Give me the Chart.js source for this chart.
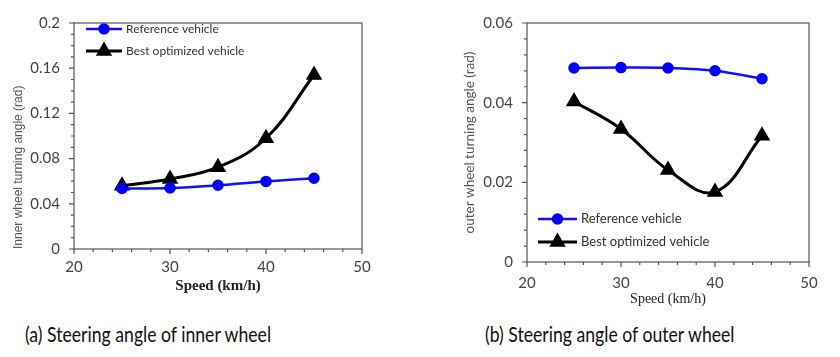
<!DOCTYPE html>
<html>
<head>
<meta charset="utf-8">
<script src="https://cdn.jsdelivr.net/npm/chart.js@4.4.1/dist/chart.umd.min.js"></script>
<style>
  body { margin: 0; background: #fff; width: 840px; height: 357px; position: relative; overflow: hidden; }
  .box { position: absolute; }
  .caption { position: absolute; top: 322px; font-family: Lato, sans-serif; font-size: 20.5px; color: #111; white-space: nowrap; transform: scaleX(0.86); transform-origin: left center; }
</style>
</head>
<body>
<div class="box" style="left:0;top:0;width:400px;height:300px"><canvas id="inner"></canvas></div>
<div class="box" style="left:420px;top:0;width:420px;height:310px"><canvas id="outer"></canvas></div>
<div class="caption" style="left:25px">(a) Steering angle of inner wheel</div>
<div class="caption" style="left:485px">(b) Steering angle of outer wheel</div>
<script>
// данные
const speeds = [25, 30, 35, 40, 45];
const innerRef = [0.0535, 0.054, 0.0564, 0.0598, 0.0626];
const innerBest = [0.056, 0.062, 0.0724, 0.098, 0.154];
const outerRef = [0.0487, 0.0488, 0.0487, 0.048, 0.046];
const outerBest = [0.0403, 0.0334, 0.0231, 0.0176, 0.0317];
const seriesNames = ["Reference vehicle", "Best optimized vehicle"];

const tickFont = { family: "Lato, sans-serif", size: 15 };
const toPts = (ys) => speeds.map((x, i) => ({ x: x, y: ys[i] }));

// рамка и засечки осей
const axesPlugin = {
    id: "axesBox",
    beforeDatasetsDraw(chart, args, opts) {
        const { ctx, chartArea: a, scales } = chart;
        ctx.save();
        ctx.strokeStyle = "#555";
        ctx.lineWidth = 1.2;
        ctx.strokeRect(a.left, a.top, a.right - a.left, a.bottom - a.top);
        const x = scales.x, y = scales.y;
        ctx.beginPath();
        for (let v = x.min; v <= x.max + 1e-9; v += opts.xMinor) {
            const px = x.getPixelForValue(v);
            const major = Math.abs(v / 10 - Math.round(v / 10)) < 1e-6;
            ctx.moveTo(px, a.bottom);
            ctx.lineTo(px, a.bottom + (major ? 5 : 3));
        }
        const n = Math.round((y.max - y.min) / opts.yMinor);
        for (let i = 0; i <= n; i++) {
            const v = y.min + i * opts.yMinor;
            const py = y.getPixelForValue(v);
            const major = i % opts.yMajorEvery === 0;
            ctx.moveTo(a.left, py);
            ctx.lineTo(a.left - (major ? 5 : 3), py);
        }
        ctx.stroke();
        ctx.restore();
    },
    afterDraw(chart, args, opts) {
        // легенда
        const { ctx } = chart;
        ctx.save();
        chart.data.datasets.forEach((ds, i) => {
            const yy = opts.legendY + i * opts.legendGap;
            ctx.strokeStyle = ds.borderColor;
            ctx.lineWidth = ds.borderWidth;
            ctx.beginPath();
            ctx.moveTo(opts.legendX, yy);
            ctx.lineTo(opts.legendX + opts.legendLine, yy);
            ctx.stroke();
            ctx.fillStyle = ds.pointBackgroundColor;
            ctx.strokeStyle = ds.pointBorderColor;
            Chart.helpers.drawPoint(ctx, {
                pointStyle: ds.pointStyle,
                radius: ds.pointRadius,
                rotation: 0,
                borderWidth: 1
            }, opts.legendX + opts.legendLine / 2, yy);
            ctx.fillStyle = "#333";
            ctx.font = opts.legendFont;
            ctx.textBaseline = "middle";
            ctx.fillText(ds.label, opts.legendX + opts.legendLine + 4, yy);
        });
        ctx.restore();
    }
};

function makeDatasets(refData, bestData) {
    return [
        {
            label: seriesNames[0],
            data: toPts(refData),
            borderColor: "#1010ff",
            backgroundColor: "#0000ff",
            pointBackgroundColor: "#0000ff",
            pointBorderColor: "#0000ff",
            pointStyle: "circle",
            pointRadius: 4.5,
            borderWidth: 2.5,
            tension: 0.4
        },
        {
            label: seriesNames[1],
            data: toPts(bestData),
            borderColor: "#000",
            backgroundColor: "#000",
            pointBackgroundColor: "#000",
            pointBorderColor: "#000",
            pointStyle: "triangle",
            pointRadius: 6.5,
            borderWidth: 3,
            tension: 0.4
        }
    ];
}

function makeChart(id, cfg) {
    return new Chart(document.getElementById(id), {
        type: "line",
        data: { datasets: makeDatasets(cfg.ref, cfg.best) },
        plugins: [axesPlugin],
        options: {
            responsive: true,
            maintainAspectRatio: false,
            animation: false,
            layout: { padding: { left: 0, top: 12, right: cfg.padRight, bottom: 0 } },
            plugins: {
                legend: { display: false },
                tooltip: { enabled: false },
                axesBox: cfg.box
            },
            scales: {
                x: {
                    type: "linear",
                    min: 20,
                    max: 50,
                    grid: { display: false, drawTicks: false },
                    border: { display: false },
                    ticks: { stepSize: 10, font: tickFont, color: "#444", padding: cfg.xTickPad, maxRotation: 0 },
                    title: {
                        display: true,
                        text: "Speed (km/h)",
                        font: { family: "Liberation Serif, serif", size: cfg.xTitleSize, weight: cfg.xTitleWeight },
                        color: "#222",
                        padding: { top: 0, bottom: cfg.xTitlePad }
                    },
                    afterFit(scale) { scale.height = cfg.xHeight; }
                },
                y: {
                    min: 0,
                    max: cfg.yMax,
                    grid: { display: false, drawTicks: false },
                    border: { display: false },
                    ticks: {
                        stepSize: cfg.yStep,
                        font: tickFont,
                        color: "#444",
                        padding: 14,
                        callback: (v) => String(+v.toFixed(2))
                    },
                    title: {
                        display: true,
                        text: cfg.yTitle,
                        align: cfg.yTitleAlign,
                        font: cfg.yTitleFont,
                        color: "#555",
                        padding: { top: cfg.yTitlePad, bottom: 0 }
                    },
                    afterFit(scale) { scale.width = cfg.yWidth; }
                }
            }
        }
    });
}

makeChart("inner", {
    ref: innerRef,
    best: innerBest,
    yMax: 0.2,
    yStep: 0.04,
    yTitle: "Inner wheel turning angle (rad)",
    yTitleAlign: "start",
    yTitleFont: { family: "Liberation Sans Narrow, Liberation Sans, sans-serif", size: 12 },
    yTitlePad: 11,
    yWidth: 74,
    xHeight: 51,
    padRight: 38,
    xTickPad: 9,
    xTitleSize: 15,
    xTitleWeight: "bold",
    xTitlePad: 5,
    box: { xMinor: 2, yMinor: 0.01, yMajorEvery: 4, legendX: 86, legendY: 29, legendGap: 22, legendLine: 36, legendFont: "12px Lato, sans-serif" }
});

makeChart("outer", {
    ref: outerRef,
    best: outerBest,
    yMax: 0.06,
    yStep: 0.02,
    yTitle: "outer wheel turning angle (rad)",
    yTitleAlign: "center",
    yTitleFont: { family: "Lato, sans-serif", size: 13.5 },
    yTitlePad: 42,
    yWidth: 107,
    xHeight: 48,
    padRight: 31,
    xTickPad: 12,
    xTitleSize: 14,
    xTitleWeight: "normal",
    xTitlePad: 2,
    box: { xMinor: 2, yMinor: 0.004, yMajorEvery: 5, legendX: 118, legendY: 219, legendGap: 23, legendLine: 39, legendFont: "13px Lato, sans-serif" }
});
</script>
</body>
</html>
